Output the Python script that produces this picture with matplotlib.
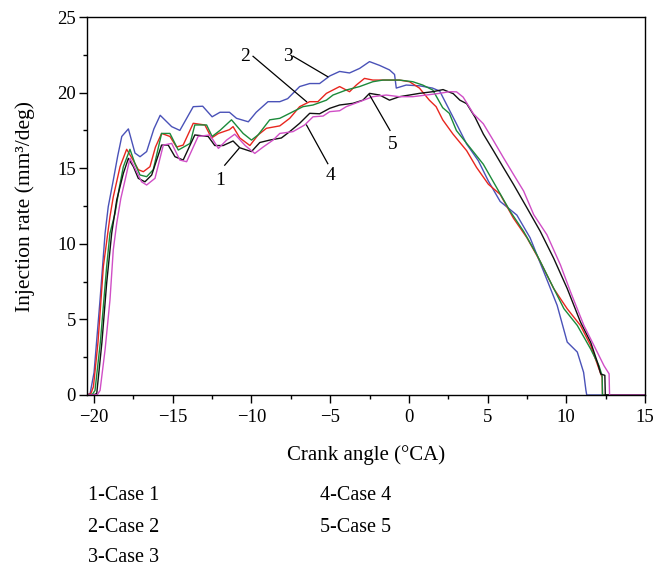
"""Injection rate versus crank angle for five cases."""

import matplotlib

matplotlib.use("Agg")
import matplotlib.pyplot as plt
from matplotlib.ticker import MultipleLocator


plt.rcParams["font.family"] = ["Liberation Serif", "DejaVu Serif"]

# Case 1 (black)
CASE1_X = [-20.45, -20.0, -19.83, -19.5, -19.2, -18.88, -18.56, -18.14, -17.82, -17.5,
           -17.19, -16.77, -16.34, -15.71, -15.29, -14.86, -14.34, -13.6, -12.75, -12.33,
           -11.8, -11.17, -10.74, -10.0, -9.47, -8.84, -8.1, -7.57, -6.94, -6.3,
           -5.67, -5.03, -4.4, -3.56, -2.92, -2.5, -1.86, -1.23, -0.6, 0.04,
           0.67, 1.52, 2.17, 2.82, 3.24, 3.67, 4.2, 4.73, 5.37, 6.0,
           6.64, 7.5, 8.35, 9.2, 10.06, 10.9, 11.55, 11.98, 12.19, 12.45,
           12.48, 15.0]
CASE1_Y = [0, 0.02, 0.1, 3.5, 7.4, 10.7, 12.9, 14.66, 15.65, 15.1,
           14.33, 14.1, 14.55, 16.53, 16.53, 15.76, 15.54, 17.2, 17.1, 16.5,
           16.5, 16.8, 16.35, 16.1, 16.7, 16.86, 17.0, 17.42, 17.97, 18.63,
           18.6, 18.96, 19.18, 19.29, 19.5, 19.95, 19.84, 19.5, 19.73, 19.84,
           19.95, 20.06, 20.2, 19.93, 19.5, 19.27, 18.38, 17.26, 16.16, 15.05,
           13.94, 12.38, 10.82, 9.04, 7.04, 4.83, 3.49, 2.16, 1.39, 1.3,
           0, 0]

# Case 2 (red)
CASE2_X = [-20.45, -20.2, -20.04, -19.75, -19.41, -18.99, -18.78, -18.35, -17.93, -17.5,
           -17.19, -16.87, -16.45, -16.1, -15.71, -15.18, -14.76, -14.34, -13.7, -12.96,
           -12.54, -12.1, -11.4, -11.17, -10.74, -10.1, -9.58, -9.05, -8.2, -7.57,
           -6.94, -6.3, -5.78, -5.24, -4.4, -3.77, -3.34, -2.82, -2.29, -0.6,
           0.04, 0.67, 1.3, 1.73, 2.15, 2.8, 3.67, 4.3, 5.05, 5.8,
           6.64, 7.5, 8.35, 9.2, 10.06, 10.9, 11.55, 12.08, 12.28, 12.3,
           15.0]
CASE2_Y = [0, 0.1, 0.55, 3.5, 8.5, 11.8, 13.1, 15.1, 16.25, 15.5,
           14.9, 14.77, 15.1, 16.4, 17.3, 17.1, 16.4, 16.53, 17.97, 17.86,
           17.0, 17.3, 17.55, 17.75, 17.0, 16.5, 17.2, 17.64, 17.8, 18.3,
           19.07, 19.4, 19.4, 19.95, 20.4, 20.06, 20.5, 20.94, 20.83, 20.83,
           20.72, 20.3, 19.5, 19.07, 18.2, 17.26, 16.16, 15.05, 13.94, 13.27,
           11.7, 10.4, 8.82, 7.04, 5.7, 4.6, 3.27, 1.72, 1.16, 0,
           0]

# Case 3 (blue)
CASE3_X = [-20.45, -20.25, -20.0, -19.62, -19.3, -19.1, -18.78, -18.5, -18.24, -17.82,
           -17.4, -17.08, -16.66, -16.2, -15.8, -15.07, -14.55, -13.7, -13.1, -12.5,
           -12.0, -11.4, -10.95, -10.2, -9.7, -8.95, -8.2, -7.7, -6.94, -6.3,
           -5.67, -5.03, -4.4, -3.77, -3.13, -2.5, -1.86, -1.23, -0.91, -0.8,
           -0.17, 0.67, 1.5, 1.96, 2.5, 2.92, 3.67, 4.41, 5.05, 5.8,
           6.86, 7.7, 8.57, 9.42, 10.06, 10.7, 11.1, 11.25, 11.3, 15.0]
CASE3_Y = [0, 0.1, 1.5, 6.3, 10.7, 12.45, 14.2, 15.8, 17.1, 17.6,
           16.0, 15.76, 16.1, 17.6, 18.5, 17.75, 17.5, 19.07, 19.1, 18.4,
           18.7, 18.7, 18.3, 18.07, 18.7, 19.4, 19.4, 19.6, 20.4, 20.6,
           20.6, 21.1, 21.4, 21.3, 21.6, 22.05, 21.8, 21.5, 21.2, 20.3,
           20.5, 20.45, 20.3, 20.1, 19.0, 18.15, 16.6, 15.5, 14.15, 12.8,
           11.9, 10.4, 8.15, 5.93, 3.5, 2.84, 1.5, 0.3, 0, 0]

# Case 4 (magenta)
CASE4_X = [-20.45, -19.8, -19.62, -19.3, -18.99, -18.78, -18.56, -18.3, -18.03, -17.72,
           -17.4, -16.98, -16.66, -16.13, -15.6, -15.07, -14.55, -14.12, -13.39, -12.64,
           -12.1, -11.58, -11.06, -10.4, -9.79, -9.26, -8.63, -8.2, -7.36, -6.62,
           -6.09, -5.45, -5.03, -4.4, -3.98, -3.13, -2.29, -1.44, -0.6, 0.25,
           1.1, 1.94, 2.57, 3.03, 3.45, 4.1, 4.73, 5.37, 6.0, 6.64,
           7.29, 7.93, 8.77, 9.63, 10.27, 11.12, 11.76, 12.4, 12.72, 12.75,
           15.0]
CASE4_Y = [0, 0.02, 0.3, 3.0, 6.28, 9.6, 11.36, 13.0, 14.22, 15.65,
           15.0, 14.1, 13.89, 14.33, 16.53, 16.64, 15.54, 15.43, 17.1, 17.2,
           16.31, 16.86, 17.25, 16.5, 15.98, 16.4, 16.86, 17.3, 17.42, 17.86,
           18.4, 18.45, 18.74, 18.8, 19.07, 19.4, 19.73, 19.84, 19.73, 19.73,
           19.84, 19.95, 20.06, 20.05, 19.7, 18.6, 17.94, 16.83, 15.71, 14.6,
           13.49, 11.93, 10.6, 8.6, 6.82, 4.6, 3.27, 1.93, 1.4, 0,
           0]

# Case 5 (green)
CASE5_X = [-20.45, -20.1, -19.94, -19.6, -19.2, -18.99, -18.67, -18.4, -18.14, -17.72,
           -17.4, -17.08, -16.66, -16.24, -15.71, -15.18, -14.65, -13.9, -13.6, -12.85,
           -12.5, -12.0, -11.27, -10.53, -10.0, -9.58, -8.84, -8.2, -7.36, -6.73,
           -6.09, -5.24, -4.82, -3.98, -3.13, -2.29, -1.65, -0.6, 0.25, 0.88,
           1.52, 2.15, 2.57, 3.02, 3.88, 4.73, 5.58, 6.43, 7.29, 8.14,
           8.99, 9.85, 10.7, 11.55, 12.08, 12.28, 12.3, 15.0]
CASE5_Y = [0, 0.05, 0.3, 3.5, 8.5, 10.7, 12.0, 13.7, 15.1, 16.25,
           15.3, 14.55, 14.44, 14.9, 17.3, 17.3, 16.2, 16.64, 17.86, 17.86,
           17.1, 17.5, 18.2, 17.3, 16.86, 17.2, 18.2, 18.3, 18.74, 19.07,
           19.18, 19.5, 19.84, 20.17, 20.4, 20.72, 20.83, 20.83, 20.72, 20.5,
           20.17, 19.0, 18.63, 17.49, 16.37, 15.26, 13.71, 12.16, 10.82, 9.26,
           7.49, 5.71, 4.6, 3.04, 1.93, 1.26, 0, 0]

CURVE_LABELS = ["1", "2", "3", "4", "5"]
LABEL_TEXT_POS = [(-12.0, 14.2), (-10.4, 22.4), (-7.7, 22.4), (-5.0, 14.5), (-1.05, 16.6)]
LABEL_LINE_FROM = [(-11.7, 15.2), (-9.9, 22.4), (-7.35, 22.4), (-5.15, 15.3), (-1.2, 17.5)]
LABEL_LINE_TO = [(-10.8, 16.3), (-6.5, 19.4), (-5.15, 21.05), (-6.5, 17.85), (-2.5, 19.85)]

LEGEND_LEFT = ["1-Case 1", "2-Case 2", "3-Case 3"]
LEGEND_RIGHT = ["4-Case 4", "5-Case 5"]


def main() -> None:
    fig = plt.figure(figsize=(6.56, 5.69), dpi=100)
    ax = fig.add_axes([0.1326, 0.3058, 0.8506, 0.6643])

    ax.plot(CASE3_X, CASE3_Y, color="#4a52b8", lw=1.0)
    ax.plot(CASE2_X, CASE2_Y, color="#e8261e", lw=1.0)
    ax.plot(CASE5_X, CASE5_Y, color="#1b8a3a", lw=1.0)
    ax.plot(CASE1_X, CASE1_Y, color="#111111", lw=1.0)
    ax.plot(CASE4_X, CASE4_Y, color="#d04ec6", lw=1.0)

    for label, tpos, p0, p1 in zip(CURVE_LABELS, LABEL_TEXT_POS, LABEL_LINE_FROM, LABEL_LINE_TO):
        ax.text(tpos[0], tpos[1], label, fontsize=14, ha="center", va="center")
        ax.plot([p0[0], p1[0]], [p0[1], p1[1]], color="black", lw=0.9)

    ax.set_xlim(-20.45, 15)
    ax.set_ylim(0, 25)
    ax.xaxis.set_major_locator(MultipleLocator(5))
    ax.xaxis.set_minor_locator(MultipleLocator(2.5))
    ax.yaxis.set_major_locator(MultipleLocator(5))
    ax.yaxis.set_minor_locator(MultipleLocator(2.5))
    ax.tick_params(which="major", direction="out", length=6, width=1, labelsize=13.5, pad=4)
    ax.tick_params(axis="y", which="major", pad=2)
    ax.tick_params(which="minor", direction="out", length=3, width=1)
    for spine in ax.spines.values():
        spine.set_linewidth(1.0)

    ax.set_xlabel("Crank angle (°CA)", fontsize=15, labelpad=14)
    ax.set_ylabel("Injection rate (mm³/deg)", fontsize=15.5, labelpad=16)

    for i, text in enumerate(LEGEND_LEFT):
        fig.text(88 / 656, 1 - (496 + i * 31) / 569, text, fontsize=14.5, va="center")
    for i, text in enumerate(LEGEND_RIGHT):
        fig.text(320 / 656, 1 - (496 + i * 31) / 569, text, fontsize=14.5, va="center")

    fig.savefig("out.png", dpi=100)
    plt.close(fig)


if __name__ == "__main__":
    main()
